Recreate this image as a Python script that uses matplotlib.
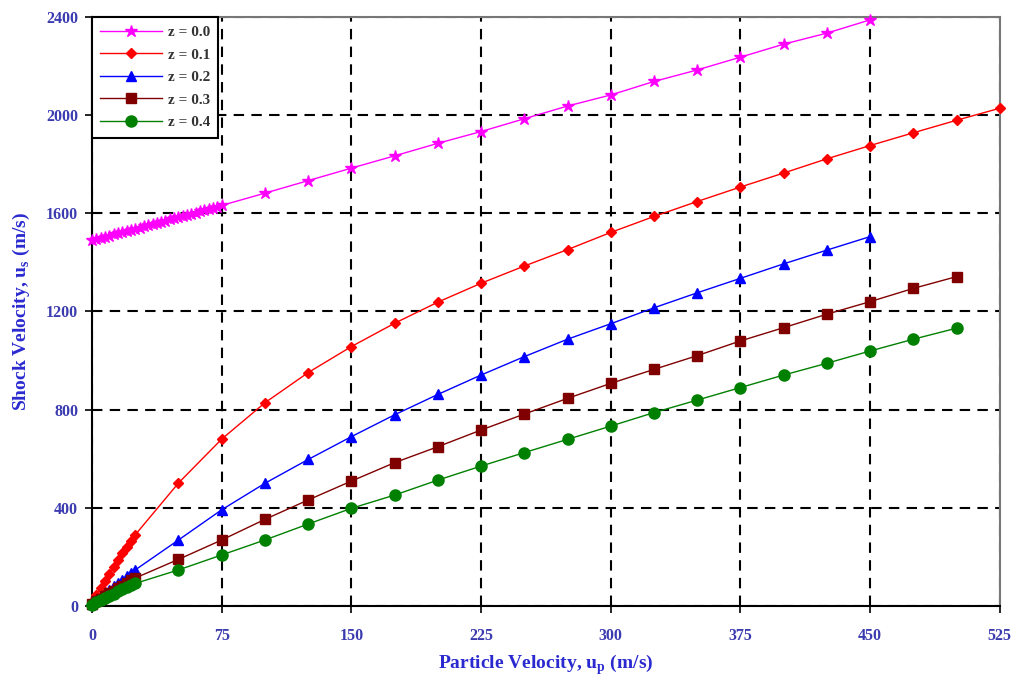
import matplotlib
matplotlib.use("Agg")
import matplotlib.pyplot as plt
import numpy as np

# ---- data ----
up_dense_z0 = [0, 2.5, 5, 7.5, 10, 12.5, 15, 17.5, 20, 22.5, 25, 27.5, 30, 32.5, 35, 37.5,
               40, 42.5, 45, 47.5, 50, 52.5, 55, 57.5, 60, 62.5, 65, 67.5, 70, 72.5, 75]
up_coarse_z0 = [100, 125, 150, 175, 200, 225, 250, 275, 300, 325, 350, 375, 400, 425, 450]
us_z0 = [1490, 1495, 1500, 1504, 1509, 1514, 1518, 1523, 1528, 1533, 1537, 1542, 1547, 1552,
         1556, 1561, 1566, 1570, 1575, 1580, 1585, 1589, 1594, 1599, 1603, 1608, 1613, 1618,
         1622, 1627, 1632,
         1682, 1733, 1784, 1834, 1885, 1933, 1985, 2037, 2082, 2137, 2184, 2236, 2289, 2334, 2388]

up_dense = [0, 2.5, 5, 7.5, 10, 12.5, 15, 17.5, 20, 22.5, 25]

up_z1 = [50, 75, 100, 125, 150, 175, 200, 225, 250, 275, 300, 325, 350, 375, 400, 425,
         450, 475, 500, 525]
us_z1 = [15, 45, 74, 103, 132, 160, 187, 214, 240, 265, 290,
         501, 680, 828, 951, 1057, 1152, 1238, 1315, 1385, 1452, 1522, 1587, 1648, 1707,
         1764, 1822, 1876, 1928, 1979, 2028]

up_z2 = [50, 75, 100, 125, 150, 175, 200, 225, 250, 275, 300, 325, 350, 375, 400, 425, 450]
us_z2 = [10, 24, 38, 52, 66, 80, 94, 107, 121, 134, 147,
         269, 392, 500, 597, 690, 779, 862, 941, 1016, 1087, 1150, 1215, 1276, 1335, 1394,
         1450, 1505]

up_z34 = [50, 75, 100, 125, 150, 175, 200, 225, 250, 275, 300, 325, 350, 375, 400, 425,
          450, 475, 500]
us_z3 = [8, 19, 30, 41, 52, 62, 73, 83, 94, 104, 114,
         190, 269, 353, 432, 509, 584, 649, 717, 782, 846, 907, 964, 1020, 1080, 1134,
         1189, 1240, 1294, 1342]
us_z4 = [6, 15, 24, 33, 42, 51, 60, 68, 77, 86, 92,
         147, 208, 269, 334, 398, 452, 513, 570, 625, 679, 733, 788, 839, 890, 941,
         989, 1039, 1087, 1132]

labels = ["z = 0.0", "z = 0.1", "z = 0.2", "z = 0.3", "z = 0.4"]
x_ticks = [0, 75, 150, 225, 300, 375, 450, 525]
y_ticks = [0, 400, 800, 1200, 1600, 2000, 2400]

# ---- plot ----
plt.rcParams['font.family'] = ['Liberation Serif', 'DejaVu Serif']
fig = plt.figure(figsize=(10.2, 6.85), dpi=100)
ax = fig.add_axes([0.0902, 0.1153, 0.8900, 0.8600])

series = [
    (up_dense_z0 + up_coarse_z0, us_z0, "#ff00ff", "*", 9),
    (up_dense + up_z1, us_z1, "#ff0000", "D", 5),
    (up_dense + up_z2, us_z2, "#0000ff", "^", 7),
    (up_dense + up_z34, us_z3, "#800000", "s", 7),
    (up_dense + up_z34, us_z4, "#008000", "o", 8),
]
for (x, y, c, m, ms), lab in zip(series, labels):
    ax.plot(x, y, color=c, marker=m, markersize=ms, linewidth=1.0, label=lab,
            markeredgecolor=c, clip_on=False, zorder=3)

ax.set_xlim(0, 525)
ax.set_ylim(0, 2400)
ax.set_xticks(x_ticks)
ax.set_yticks(y_ticks)
ax.grid(True, color="black", linestyle=(0, (5, 3.5)), linewidth=1.5)
ax.set_axisbelow(True)

tick_color = "#3b3bb0"
ax.tick_params(direction="out", length=5, width=1.2, colors="black", labelsize=11.5)
ax.tick_params(axis="x", pad=11)
ax.tick_params(axis="y", pad=5)
for lab in ax.get_xticklabels() + ax.get_yticklabels():
    lab.set_fontweight("bold")
    lab.set_color(tick_color)

for s in ["left", "bottom"]:
    ax.spines[s].set_color("black")
    ax.spines[s].set_linewidth(1.5)
for s in ["top", "right"]:
    ax.spines[s].set_color("#777777")
    ax.spines[s].set_linewidth(1.5)

ax.set_xlabel("Particle Velocity, u$_\\mathregular{p}$ (m/s)", fontsize=14,
              fontweight="bold", color="#2a2ad0", labelpad=6)
ax.set_ylabel("Shock Velocity, u$_\\mathregular{s}$ (m/s)", fontsize=14,
              fontweight="bold", color="#2a2ad0", labelpad=10)

leg = ax.legend(loc="upper left", bbox_to_anchor=(0.0, 1.0), fancybox=False,
                framealpha=1, edgecolor="black", borderaxespad=0.0,
                prop={"weight": "bold", "size": 11}, handlelength=4.0,
                labelspacing=0.58, borderpad=0.55, handletextpad=0.4)
leg.get_frame().set_linewidth(1.5)
for t in leg.get_texts():
    t.set_color("#333333")
leg.set_zorder(5)

fig.savefig("out.png", dpi=100, facecolor="white")
